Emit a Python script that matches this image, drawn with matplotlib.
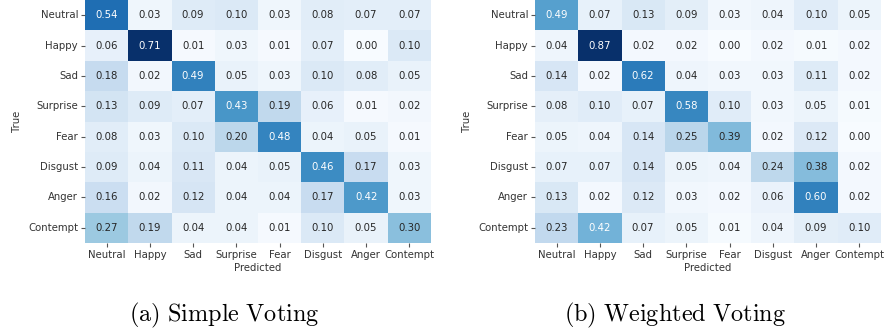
import matplotlib
matplotlib.use("Agg")
import matplotlib.pyplot as plt
import numpy as np
import seaborn as sns

LABELS = ["Neutral", "Happy", "Sad", "Surprise", "Fear", "Disgust", "Anger", "Contempt"]

# row = true class, column = predicted class
SIMPLE = [
    [0.54, 0.03, 0.09, 0.10, 0.03, 0.08, 0.07, 0.07],
    [0.06, 0.71, 0.01, 0.03, 0.01, 0.07, 0.00, 0.10],
    [0.18, 0.02, 0.49, 0.05, 0.03, 0.10, 0.08, 0.05],
    [0.13, 0.09, 0.07, 0.43, 0.19, 0.06, 0.01, 0.02],
    [0.08, 0.03, 0.10, 0.20, 0.48, 0.04, 0.05, 0.01],
    [0.09, 0.04, 0.11, 0.04, 0.05, 0.46, 0.17, 0.03],
    [0.16, 0.02, 0.12, 0.04, 0.04, 0.17, 0.42, 0.03],
    [0.27, 0.19, 0.04, 0.04, 0.01, 0.10, 0.05, 0.30],
]
WEIGHTED = [
    [0.49, 0.07, 0.13, 0.09, 0.03, 0.04, 0.10, 0.05],
    [0.04, 0.87, 0.02, 0.02, 0.00, 0.02, 0.01, 0.02],
    [0.14, 0.02, 0.62, 0.04, 0.03, 0.03, 0.11, 0.02],
    [0.08, 0.10, 0.07, 0.58, 0.10, 0.03, 0.05, 0.01],
    [0.05, 0.04, 0.14, 0.25, 0.39, 0.02, 0.12, 0.00],
    [0.07, 0.07, 0.14, 0.05, 0.04, 0.24, 0.38, 0.02],
    [0.13, 0.02, 0.12, 0.03, 0.02, 0.06, 0.60, 0.02],
    [0.23, 0.42, 0.07, 0.05, 0.01, 0.04, 0.09, 0.10],
]
CAPTIONS = ["(a) Simple Voting", "(b) Weighted Voting"]

W, H = 887, 333
fig = plt.figure(figsize=(W / 100, H / 100), dpi=100)
plt.rcParams["mathtext.fontset"] = "cm"
FS = 7.3


def px_axes(x0, y0, w, h):
    # pixel box (top-left origin) -> figure fraction
    return fig.add_axes([x0 / W, 1 - (y0 + h) / H, w / W, h / H])


for i, (cm, cap) in enumerate(zip([SIMPLE, WEIGHTED], CAPTIONS)):
    x0 = 85 if i == 0 else 535
    ax = px_axes(x0, 0, 346, 243)
    sns.heatmap(np.array(cm), annot=True, fmt=".2f", cmap="Blues", cbar=False,
                xticklabels=LABELS, yticklabels=LABELS, ax=ax,
                annot_kws={"fontsize": FS})
    ax.tick_params(labelsize=FS, length=3, width=0.8, color="#555555",
                   labelcolor="#333333", pad=2)
    plt.setp(ax.get_yticklabels(), rotation=0)
    plt.setp(ax.get_xticklabels(), rotation=0)
    ax.set_xlabel("Predicted", fontsize=FS, color="#333333", labelpad=2.5)
    ax.set_ylabel("True", fontsize=FS, color="#333333", labelpad=4)
    cx = 224 if i == 0 else 675
    words = cap.replace(" ", r"\ ")
    fig.text(cx / W, 1 - 315 / H, r"$\mathrm{" + words + "}$", ha="center",
             va="center", fontsize=17.5)

fig.savefig("out.png", dpi=100)
